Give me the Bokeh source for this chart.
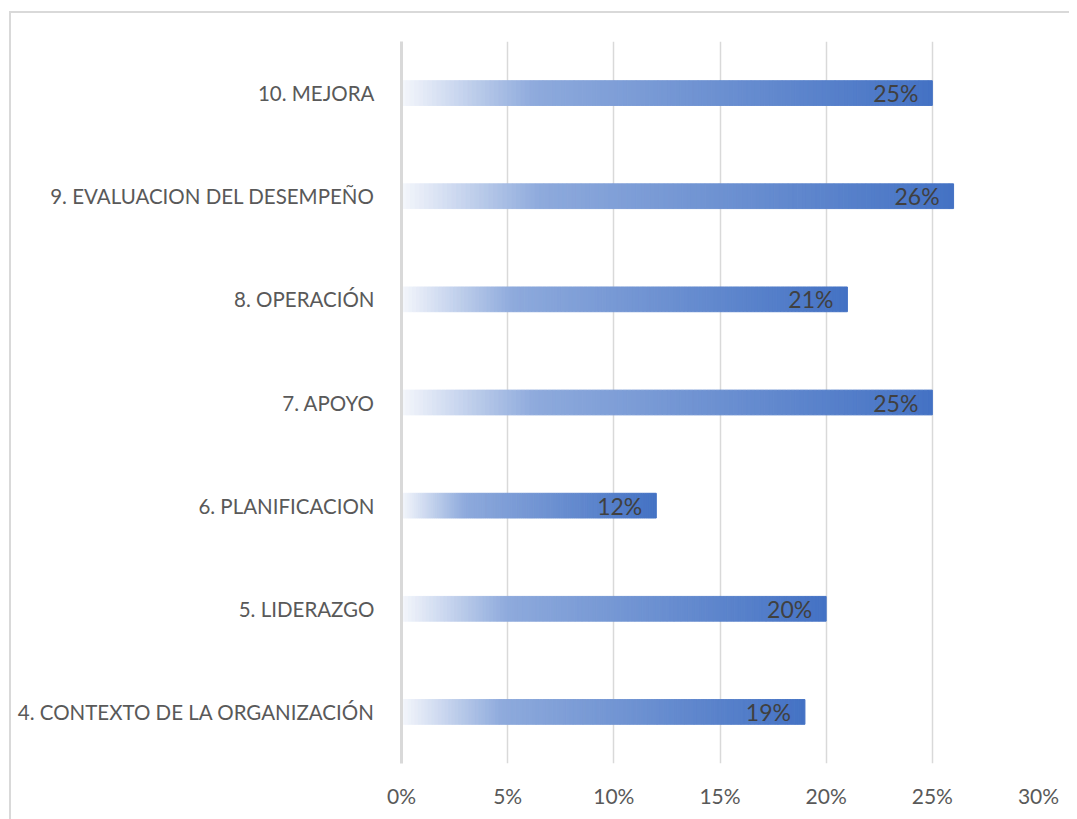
from bokeh.plotting import figure
from bokeh.models import Range1d, FactorRange, FixedTicker, NumeralTickFormatter, ColumnDataSource
from bokeh.core.properties import value
from bokeh.embed import file_html
from bokeh.resources import INLINE

categories = ["4. CONTEXTO DE LA ORGANIZACIÓN", "5. LIDERAZGO", "6. PLANIFICACION",
              "7. APOYO", "8. OPERACIÓN", "9. EVALUACION DEL DESEMPEÑO", "10. MEJORA"]
values = [0.19, 0.20, 0.12, 0.25, 0.21, 0.26, 0.25]
labels = ["19%", "20%", "12%", "25%", "21%", "26%", "25%"]
x_ticks = [0, 0.05, 0.10, 0.15, 0.20, 0.25, 0.30]

FONT = "Lato"

# gradient stops (fraction of bar length, rgb)
stops = [(0.0, (245, 247, 252)), (0.25, (142, 170, 220)), (1.0, (68, 114, 196))]


def grad_color(t):
    for (t0, c0), (t1, c1) in zip(stops[:-1], stops[1:]):
        if t <= t1:
            f = (t - t0) / (t1 - t0)
            c = [round(a + (b - a) * f) for a, b in zip(c0, c1)]
            return "#%02x%02x%02x" % tuple(c)
    return "#%02x%02x%02x" % stops[-1][1]


N = 120
seg = dict(y=[], left=[], right=[], color=[])
for cat, v in zip(categories, values):
    for i in range(N):
        seg["y"].append(cat)
        seg["left"].append(v * i / N)
        seg["right"].append(v * (i + 1) / N)
        seg["color"].append(grad_color((i + 0.5) / N))

p = figure(width=1060, height=808, output_backend="svg", toolbar_location=None,
           x_range=Range1d(0, 0.30), y_range=FactorRange(factors=categories),
           min_border_left=390, min_border_top=28, min_border_right=33, min_border_bottom=58)
p.styles = {"border-top": "2px solid #d9d9d9", "border-left": "2px solid #d9d9d9",
            "margin-left": "9px", "margin-top": "11px"}
p.outline_line_color = None
p.background_fill_color = "white"
p.border_fill_color = "white"

p.hbar(y="y", left="left", right="right", height=0.24, source=ColumnDataSource(seg),
       fill_color="color", line_color="color", line_width=1)

p.text(x=values, y=categories, text=labels, text_align="right", text_baseline="middle",
       x_offset=-14, text_color="#404040", text_font=value(FONT), text_font_size="23px")

p.xaxis.ticker = FixedTicker(ticks=x_ticks)
p.xaxis.formatter = NumeralTickFormatter(format="0%")
p.xaxis.axis_line_color = None
p.xaxis.major_tick_line_color = None
p.xaxis.minor_tick_line_color = None
p.xaxis.major_label_standoff = 13
p.xaxis.major_label_text_font = FONT
p.xaxis.major_label_text_font_size = "21px"
p.xaxis.major_label_text_color = "#595959"

p.yaxis.axis_line_color = "#d9d9d9"
p.yaxis.axis_line_width = 3
p.yaxis.major_tick_line_color = None
p.yaxis.minor_tick_line_color = None
p.yaxis.major_label_standoff = 21
p.yaxis.major_label_text_font = FONT
p.yaxis.major_label_text_font_size = "20.5px"
p.yaxis.major_label_text_color = "#595959"

p.xgrid.grid_line_color = "#d9d9d9"
p.xgrid.grid_line_width = 1.5
p.ygrid.grid_line_color = None

open("out.html", "w").write(file_html(p, INLINE))
